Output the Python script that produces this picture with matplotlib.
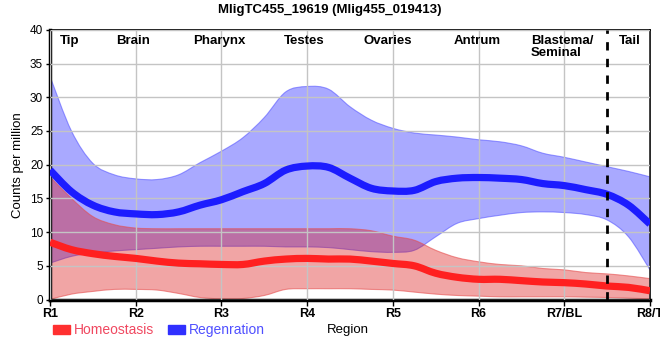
import numpy as np
import matplotlib
matplotlib.use('Agg')
import matplotlib.pyplot as plt
from matplotlib.patches import Patch, PathPatch
from matplotlib.path import Path

plt.rcParams['font.family'] = ['Liberation Sans', 'DejaVu Sans']

# sample positions along the body (R1 = 0 ... R8/T = 7), read every quarter region
pos = np.linspace(0, 7, 29)

regions = ['R1', 'R2', 'R3', 'R4', 'R5', 'R6', 'R7/BL', 'R8/T']
tissues = ['Tip', 'Brain', 'Pharynx', 'Testes', 'Ovaries', 'Antrum', 'Blastema/\nSeminal', 'Tail']
tissue_pos = [0.23, 0.97, 1.98, 2.96, 3.94, 4.98, 5.99, 6.77]

homeo_mid = [8.5, 7.4, 6.8, 6.4, 6.1, 5.7, 5.4, 5.3, 5.2, 5.2, 5.7, 6.0, 6.1, 6.0, 6.0,
             5.7, 5.35, 5.0, 3.9, 3.3, 3.0, 3.0, 2.8, 2.6, 2.5, 2.3, 2.0, 1.8, 1.3]
homeo_hi = [18.2, 15.0, 12.3, 11.1, 10.6, 10.5, 10.5, 10.5, 10.5, 10.5, 10.5, 10.5, 10.5, 10.5, 10.5,
            10.2, 9.4, 8.8, 7.3, 6.2, 5.6, 5.2, 5.0, 4.6, 4.4, 4.0, 3.8, 3.5, 3.1]
homeo_lo = [0.0, 0.8, 1.2, 1.5, 1.5, 1.4, 0.9, 0.3, 0.1, 0.15, 0.6, 1.5, 1.6, 1.6, 1.6,
            1.5, 1.4, 1.1, 0.8, 0.6, 0.5, 0.4, 0.4, 0.4, 0.4, 0.35, 0.3, 0.2, 0.1]

regen_mid = [19.2, 16.0, 14.0, 13.0, 12.7, 12.6, 13.0, 14.0, 14.8, 16.0, 17.2, 19.2, 19.8, 19.6, 18.0,
             16.5, 16.1, 16.2, 17.5, 18.0, 18.1, 18.0, 17.8, 17.2, 16.9, 16.3, 15.6, 14.0, 11.2]
regen_hi = [33.1, 25.0, 20.2, 18.5, 17.9, 17.8, 18.5, 20.3, 22.0, 24.0, 27.0, 30.8, 31.6, 31.2, 28.6,
            26.6, 25.4, 24.7, 24.4, 24.1, 23.7, 23.4, 22.8, 21.7, 21.1, 20.4, 19.7, 19.0, 18.2]
regen_lo = [5.4, 6.4, 6.9, 7.2, 7.4, 7.6, 7.8, 7.9, 7.9, 7.9, 7.9, 7.8, 7.8, 7.7, 7.4,
            7.1, 7.0, 7.3, 9.3, 11.3, 12.0, 12.5, 12.9, 13.0, 12.9, 12.6, 11.8, 9.3, 4.4]


def spline_segments(xs, ys):
    """Catmull-Rom through the points, as cubic bezier control points (no MOVETO)."""
    pts = np.column_stack([xs, ys]).astype(float)
    n = len(pts)
    verts = []
    for i in range(n - 1):
        p0 = pts[max(i - 1, 0)]
        p1 = pts[i]
        p2 = pts[i + 1]
        p3 = pts[min(i + 2, n - 1)]
        verts += [p1 + (p2 - p0) / 6.0, p2 - (p3 - p1) / 6.0, p2]
    return verts


def spline_path(xs, ys):
    verts = [(xs[0], ys[0])] + spline_segments(xs, ys)
    codes = [Path.MOVETO] + [Path.CURVE4] * (len(verts) - 1)
    return Path(verts, codes)


def band_path(xs, lo, hi):
    verts = [(xs[0], hi[0])] + spline_segments(xs, hi)
    codes = [Path.MOVETO] + [Path.CURVE4] * (len(verts) - 1)
    verts += [(xs[-1], lo[-1])]
    codes += [Path.LINETO]
    back = spline_segments(xs[::-1], lo[::-1])
    verts += back
    codes += [Path.CURVE4] * len(back)
    verts += [(xs[0], hi[0])]
    codes += [Path.CLOSEPOLY]
    return Path(verts, codes)


fig = plt.figure(figsize=(6.6, 3.6), dpi=100)
ax = fig.add_axes([0.0758, 0.168, 0.909, 0.749])

# bands (regeneration below, homeostasis on top)
ax.add_patch(PathPatch(band_path(pos, regen_lo, regen_hi), facecolor=(0.16, 0.16, 1.0, 0.4),
                       edgecolor=(0.3, 0.3, 1.0, 0.55), lw=0.8, zorder=2))
ax.add_patch(PathPatch(band_path(pos, homeo_lo, homeo_hi), facecolor=(0.86, 0.05, 0.05, 0.37),
                       edgecolor=(0.9, 0.3, 0.3, 0.6), lw=0.8, zorder=2.1))

# mean lines
ax.add_patch(PathPatch(spline_path(pos, homeo_mid), facecolor='none', edgecolor='#ff2020',
                       lw=5.2, capstyle='butt', zorder=4))
ax.add_patch(PathPatch(spline_path(pos, regen_mid), facecolor='none', edgecolor='#1c1cff',
                       lw=5.2, capstyle='butt', zorder=4))

ax.axvline(6.5, color='black', lw=2, ls=(0, (3, 3)), zorder=5)

ax.set_xlim(0, 7)
ax.set_ylim(0, 40)
ax.set_yticks(np.arange(0, 41, 5))
ax.set_xticks(range(len(regions)))
ax.set_xticklabels(regions, fontweight='bold', fontsize=9)
ax.tick_params(axis='y', labelsize=8.5, length=3, width=1, pad=2)
ax.tick_params(axis='x', length=4, width=1, pad=2)
ax.grid(True, color='#c4c4c4', lw=1, zorder=3)
ax.set_axisbelow(False)

for side in ['left', 'bottom']:
    ax.spines[side].set_linewidth(2.5)
for side in ['top', 'right']:
    ax.spines[side].set_linewidth(1.2)

ax.set_ylabel('Counts per million', fontsize=9.5, labelpad=4)

for label, x in zip(tissues, tissue_pos):
    ha = 'left' if '\n' in label else 'center'
    xx = x - 0.38 if '\n' in label else x
    ax.text(xx, 39.3, label, ha=ha, va='top', fontsize=9.5, fontweight='bold',
            linespacing=1.0, zorder=6)

fig.text(0.5, 0.99, 'MligTC455_19619 (Mlig455_019413)', ha='center', va='top',
         fontsize=9.5, fontweight='bold')
fig.text(0.527, 0.083, 'Region', ha='center', va='center', fontsize=9.5)

handles = [Patch(color='#ff3030'), Patch(color='#3030ff')]
fig.legend(handles, ['Homeostasis', 'Regenration'], loc='center left',
           bbox_to_anchor=(0.062, 0.083), ncol=2, frameon=False, fontsize=10,
           handlelength=1.2, handleheight=0.6, handletextpad=0.3, columnspacing=1.0,
           labelcolor=['#f04860', '#5050ff'])

fig.savefig('out.png', dpi=100)
